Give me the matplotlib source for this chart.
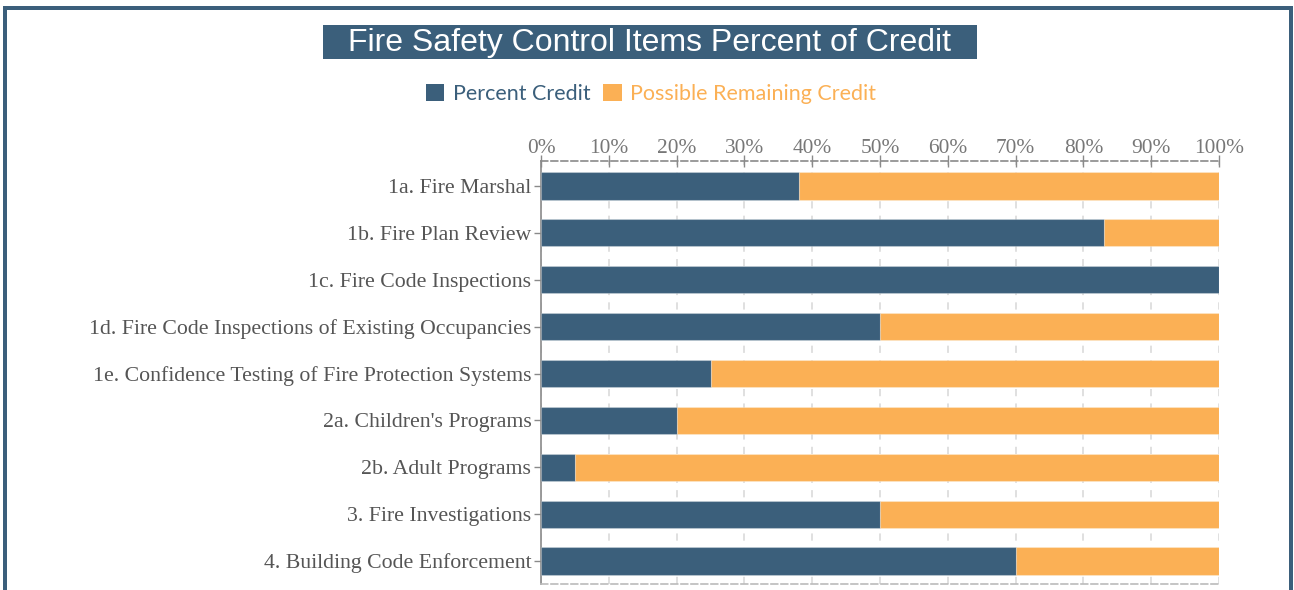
import matplotlib
matplotlib.use("Agg")
import matplotlib.pyplot as plt
from matplotlib.lines import Line2D
from matplotlib.patches import Rectangle, Patch

categories = [
    "1a. Fire Marshal",
    "1b. Fire Plan Review",
    "1c. Fire Code Inspections",
    "1d. Fire Code Inspections of Existing Occupancies",
    "1e. Confidence Testing of Fire Protection Systems",
    "2a. Children's Programs",
    "2b. Adult Programs",
    "3. Fire Investigations",
    "4. Building Code Enforcement",
]
percent_credit = [38, 83, 100, 50, 25, 20, 5, 50, 70]
remaining_credit = [100 - v for v in percent_credit]
x_ticks = list(range(0, 101, 10))
x_tick_labels = [f"{t}%" for t in x_ticks]
series_names = ["Percent Credit", "Possible Remaining Credit"]

BLUE = "#3b5f7b"
ORANGE = "#fbb055"
GRAY = "#8a8a8a"

W, H = 1294, 590
fig = plt.figure(figsize=(W / 100, H / 100), dpi=100)

# frame
lw = 4 * 72 / 100
fig.add_artist(Line2D([5 / W, 5 / W], [0, 1 - 8 / H], color=BLUE, lw=lw, transform=fig.transFigure))
fig.add_artist(Line2D([5 / W, 1291 / W], [1 - 8 / H, 1 - 8 / H], color=BLUE, lw=lw, transform=fig.transFigure))
fig.add_artist(Line2D([1291 / W, 1291 / W], [0, 1 - 8 / H], color=BLUE, lw=lw, transform=fig.transFigure))

# title box
fig.add_artist(Rectangle((323 / W, 1 - 59 / H), 654 / W, 34 / H, facecolor=BLUE, edgecolor="none",
                         transform=fig.transFigure))
fig.text(650 / W, 1 - 43 / H, "Fire Safety Control Items Percent of Credit", color="white",
         fontsize=23, family="Liberation Sans", ha="center", va="center")

left, right = 541 / W, 1219 / W
top, bottom = 1 - 161 / H, 1 - 584 / H
ax = fig.add_axes([left, bottom, right - left, top - bottom])

y = list(range(len(categories)))
bh = 0.58
ax.barh(y, percent_credit, height=bh, color=BLUE, edgecolor=(1, 1, 1, 0.25), linewidth=0.8,
        label=series_names[0], zorder=3)
ax.barh(y, remaining_credit, left=percent_credit, height=bh, color=ORANGE,
        edgecolor=(1, 1, 1, 0.25), linewidth=0.8, label=series_names[1], zorder=3)

ax.set_xlim(0, 100)
ax.set_ylim(8.49, -0.533)
ax.set_yticks(y)
ax.set_yticklabels(categories, family="Liberation Serif", fontsize=15.7, color="#555555")
ax.set_xticks(x_ticks)
ax.set_xticklabels(x_tick_labels, family="Liberation Serif", fontsize=15.4, color="#777777")
ax.xaxis.tick_top()
ax.tick_params(axis="x", direction="inout", length=9, width=1, color=GRAY, pad=-2)
ax.tick_params(axis="y", direction="out", length=5, width=1, color=GRAY, pad=2)

ax.spines["right"].set_visible(False)
ax.spines["left"].set_color(GRAY)
ax.spines["left"].set_linewidth(1.2)
for s in ["top", "bottom"]:
    ax.spines[s].set_color(GRAY)
    ax.spines[s].set_linewidth(1.2)
    ax.spines[s].set_linestyle((0, (4, 2)))
ax.spines["bottom"].set_color("#bbbbbb")

ax.grid(axis="x", color="#dddddd", linestyle=(0, (4, 4)), linewidth=1.3, zorder=0)
ax.set_axisbelow(True)

handles = [Patch(facecolor=BLUE), Patch(facecolor=ORANGE)]
leg = fig.legend(handles, series_names, loc="center", bbox_to_anchor=(651 / W, 1 - 94 / H), ncol=2,
                 frameon=False, prop={"family": "Lato", "size": 15.5}, handlelength=0.85,
                 handleheight=0.85, handletextpad=0.4, columnspacing=0.6,
                 labelcolor=[BLUE, ORANGE])

fig.savefig("out.png", dpi=100)
